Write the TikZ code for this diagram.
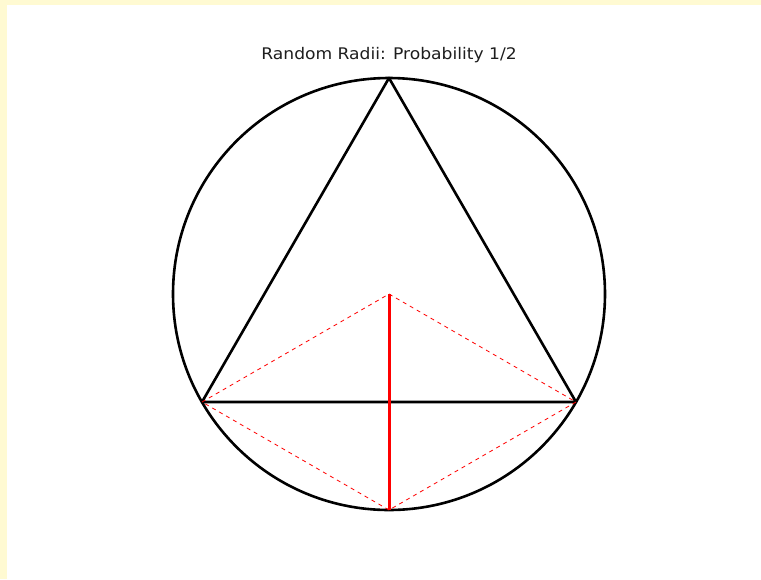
\documentclass[tikz,border=0pt]{standalone}
\usepackage{fontspec}
\setsansfont{DejaVu Sans}
\usepackage{xcolor}
\usetikzlibrary{calc}
\definecolor{frameyellow}{RGB}{255,250,210}
\definecolor{titlegray}{RGB}{30,30,30}

\begin{document}
\begin{tikzpicture}[x=1pt,y=-1pt,
   rim/.style={draw=black,line width=2.6pt},
   chord/.style={draw=black,line width=2.6pt,line join=round},
   radius/.style={draw=red,line width=3pt},
   guide/.style={draw=red,line width=0.8pt,dash pattern=on 4pt off 4pt}]
  % frame and margins
  \fill[frameyellow] (0,0) rectangle (761,579);
  \fill[white] (7,5) rectangle (761,579);
  \useasboundingbox (0,0) rectangle (761,579);
  % points
  \coordinate (c) at (389,294);
  \coordinate (apex) at (389,78);
  \coordinate (bl) at (202,402);
  \coordinate (br) at (576,402);
  \coordinate (bot) at (389,510);
  \node[font=\sffamily\fontsize{16}{18}\selectfont,text=titlegray] (title) at (389,55)
     {\scalebox{1.07}[1]{Random Radii: Probability 1/2}};
  % circle and triangle
  \draw[rim] (c) circle (216);
  \draw[chord] (apex) -- (bl) -- (br) -- cycle;
  % dashed guides
  \draw[guide] (bl) -- (c) -- (br) -- (bot) -- (bl);
  \draw[radius] (c) -- (bot);
\end{tikzpicture}
\end{document}
